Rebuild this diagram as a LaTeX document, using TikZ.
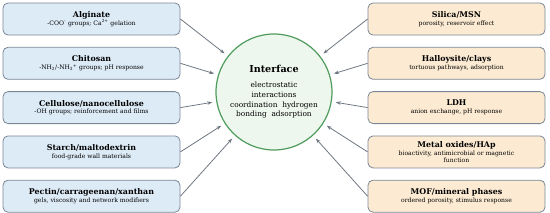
\documentclass[tikz,border=0pt]{standalone}
\usepackage{fontspec}
\setmainfont{DejaVu Serif}
\usetikzlibrary{arrows.meta, positioning}
\definecolor{polyfill}{HTML}{DDEBF7}
\definecolor{inorgfill}{HTML}{FCEBD2}
\definecolor{boxline}{HTML}{7A8696}
\definecolor{ringfill}{HTML}{EEF7EE}
\definecolor{ringline}{HTML}{4E9C5C}
\definecolor{arrowgray}{HTML}{6F7781}

\begin{document}
\begin{tikzpicture}[
    x=1pt, y=-1pt,
    every node/.style={font=\fontsize{6.1}{7.8}\selectfont},
    matbox/.style={rectangle, draw=boxline, line width=0.8pt, rounded corners=5pt,
                   minimum width=177pt, minimum height=32pt, align=center, inner sep=2pt},
    polybox/.style={matbox, fill=polyfill},
    inorgbox/.style={matbox, fill=inorgfill},
    arr/.style={-{Stealth[length=5pt, width=3.5pt]}, line width=0.8pt, arrowgray, shorten >=4pt}
]
    \useasboundingbox (0,0) rectangle (550,212);
    % centre
    \node[circle, draw=ringline, line width=1.2pt, fill=ringfill, minimum size=116pt,
          align=center, inner sep=0pt, font=\fontsize{7.4}{9.7}\selectfont] (iface) at (274,92)
        {{\fontsize{9.6}{13}\selectfont\bfseries Interface}\\[5pt]
         electrostatic\\interactions\\coordination\ \ hydrogen\\bonding\ \ adsorption};
    % polymers
    \node[polybox] (alginate) at (91.5,19)
        {{\bfseries\fontsize{7.9}{12.5}\selectfont Alginate}\\-COO\textsuperscript{-} groups; Ca\textsuperscript{2+} gelation};
    \node[polybox, below=11.5pt of alginate] (chitosan)
        {{\bfseries\fontsize{7.9}{12.5}\selectfont Chitosan}\\-NH\textsubscript{2}/-NH\textsubscript{3}\textsuperscript{+} groups; pH response};
    \node[polybox, below=11.5pt of chitosan] (cellulose)
        {{\bfseries\fontsize{7.9}{12.5}\selectfont Cellulose/nanocellulose}\\-OH groups; reinforcement and films};
    \node[polybox, below=11.5pt of cellulose] (starch)
        {{\bfseries\fontsize{7.9}{12.5}\selectfont Starch/maltodextrin}\\food-grade wall materials};
    \node[polybox, below=11.5pt of starch] (pectin)
        {{\bfseries\fontsize{7.9}{12.5}\selectfont Pectin/carrageenan/xanthan}\\gels, viscosity and network modifiers};
    % inorganic phases
    \node[inorgbox] (silica) at (456.5,19)
        {{\bfseries\fontsize{7.9}{12.5}\selectfont Silica/MSN}\\porosity, reservoir effect};
    \node[inorgbox, below=11.5pt of silica] (halloysite)
        {{\bfseries\fontsize{7.9}{12.5}\selectfont Halloysite/clays}\\tortuous pathways, adsorption};
    \node[inorgbox, below=11.5pt of halloysite] (ldh)
        {{\bfseries\fontsize{7.9}{12.5}\selectfont LDH}\\anion exchange, pH response};
    \node[inorgbox, below=11.5pt of ldh] (metox)
        {{\bfseries\fontsize{7.9}{10.5}\selectfont Metal oxides/HAp}\\bioactivity, antimicrobial or magnetic\\[-1.2pt]function};
    \node[inorgbox, below=11.5pt of metox] (mof)
        {{\bfseries\fontsize{7.9}{12.5}\selectfont MOF/mineral phases}\\ordered porosity, stimulus response};
    % arrows
    \foreach \src in {alginate, chitosan, cellulose, starch, pectin}
        \draw[arr] (\src.east) -- (iface);
    \foreach \src in {silica, halloysite, ldh, metox, mof}
        \draw[arr] (\src.west) -- (iface);
\end{tikzpicture}
\end{document}
